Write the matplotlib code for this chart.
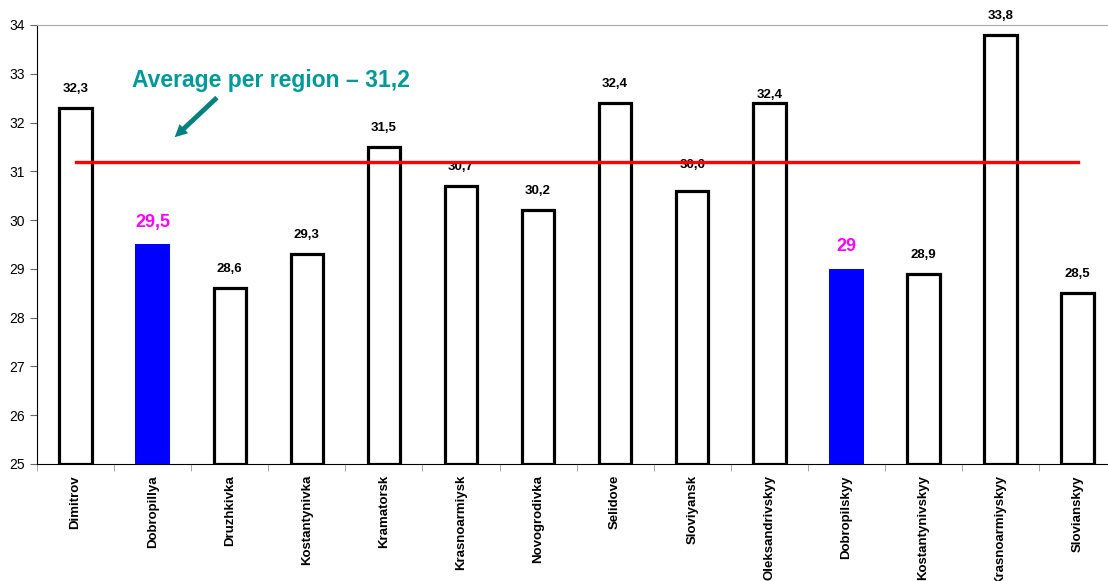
import matplotlib.pyplot as plt
import numpy as np

plt.rcParams['font.family'] = ['Liberation Sans', 'DejaVu Sans']

regions = ['Dimitrov', 'Dobropillya', 'Druzhkivka', 'Kostantynivka', 'Kramatorsk',
           'Krasnoarmiysk', 'Novogrodivka', 'Selidove', 'Sloviyansk', 'Oleksandrivskyy',
           'Dobropilskyy', 'Kostantynivskyy', 'Krasnoarmiyskyy', 'Slovianskyy']
values = [32.3, 29.5, 28.6, 29.3, 31.5, 30.7, 30.2, 32.4, 30.6, 32.4, 29, 28.9, 33.8, 28.5]
value_labels = ['32,3', '29,5', '28,6', '29,3', '31,5', '30,7', '30,2', '32,4', '30,6',
                '32,4', '29', '28,9', '33,8', '28,5']
highlight = ['Dobropillya', 'Dobropilskyy']
average = 31.2
base = 25

fig = plt.figure(figsize=(11.08, 5.81), dpi=100)
ax = fig.add_axes([0.0334, 0.2014, 0.974, 0.7556])

x = np.arange(len(regions))
heights = [v - base for v in values]
for i, r in enumerate(regions):
    if r in highlight:
        ax.bar(x[i], heights[i], bottom=base, width=0.45, color='#0000ff', edgecolor='none', zorder=2)
    else:
        ax.bar(x[i], heights[i], bottom=base, width=0.42, color='white', edgecolor='black',
               linewidth=2.3, zorder=2)

# value labels (two of them sit a little off in the original)
label_shift = {8: 26, 9: 8}
for i, r in enumerate(regions):
    off = label_shift.get(i, 19)
    if r in highlight:
        ax.annotate(value_labels[i], (x[i], values[i]), xytext=(0, 22), textcoords='offset pixels',
                    ha='center', va='center', fontsize=13, fontweight='bold', color='#ff00ff')
    else:
        ax.annotate(value_labels[i], (x[i], values[i]), xytext=(0, off), textcoords='offset pixels',
                    ha='center', va='center', fontsize=9.5, fontweight='bold', color='black')

# average line
ax.plot([x[0], x[-1]], [average, average], color='#ff0000', linewidth=2.4, zorder=3)

ax.text(2.53, 32.87, 'Average per region \u2013 31,2', color='#009999', fontsize=16.5,
        fontweight='bold', ha='center', va='center')
ax.annotate('', xy=(1.26, 31.66), xytext=(1.86, 32.55),
            arrowprops=dict(arrowstyle='simple,head_length=0.9,head_width=0.9,tail_width=0.35',
                            color='#008080', lw=0))

ax.set_xlim(-0.5, len(regions) - 0.5)
ax.set_ylim(25, 34)
ax.set_yticks(range(25, 35))
ax.tick_params(axis='y', length=5, width=0.8, labelsize=10, direction='out', color='#666666')
ax.set_xticks(x)
ax.set_xticklabels(regions, rotation=90, fontsize=9.5, fontweight='bold')
ax.tick_params(axis='x', which='major', length=0, pad=8)
ax.set_xticks(np.arange(-0.5, len(regions), 1), minor=True)
ax.tick_params(axis='x', which='minor', length=5, color='#999999', direction='out')

ax.spines['top'].set_color('#aaaaaa')
ax.spines['right'].set_visible(False)
ax.spines['left'].set_color('black')
ax.spines['bottom'].set_color('black')

fig.savefig('out.png', dpi=100)
